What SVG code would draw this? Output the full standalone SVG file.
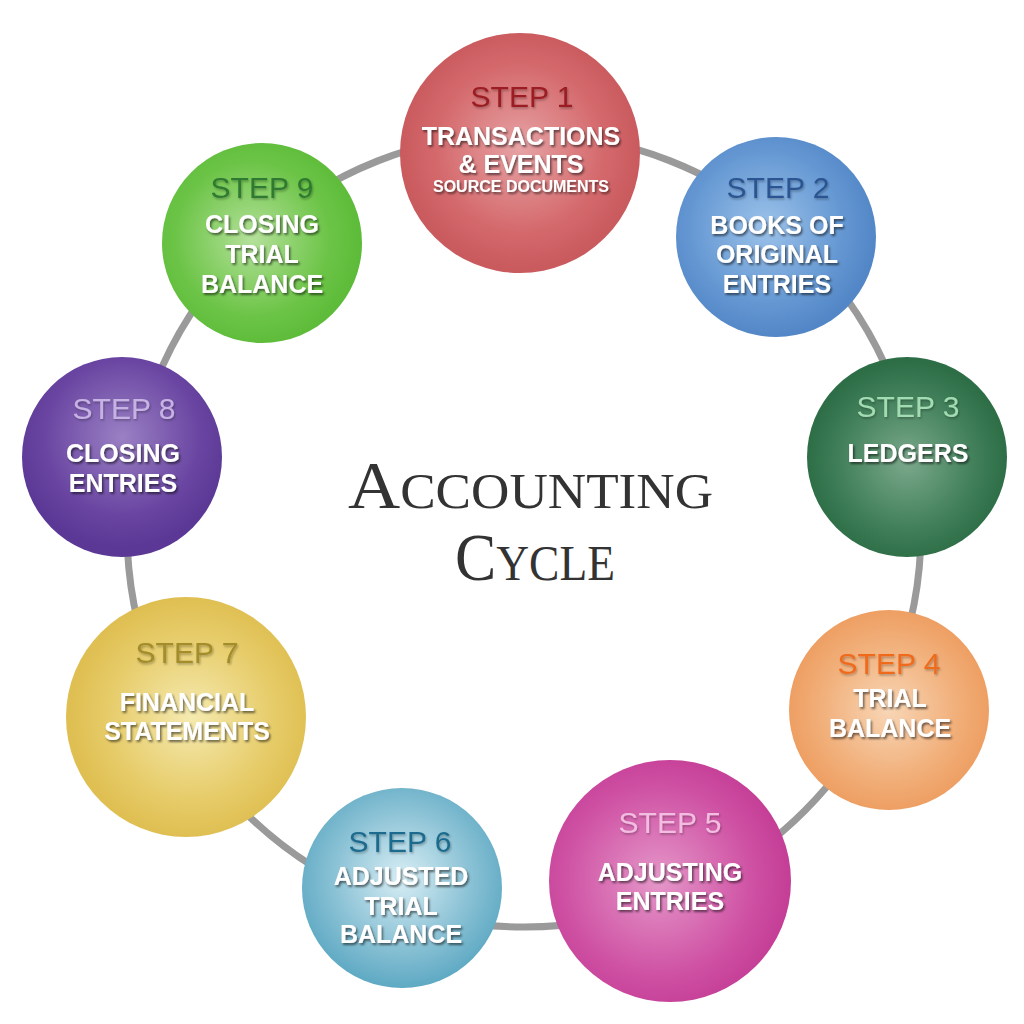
<svg xmlns="http://www.w3.org/2000/svg" width="1024" height="1024" viewBox="0 0 1024 1024">
<defs>
<radialGradient id="g1" cx="50%" cy="48%" r="50%"><stop offset="0" stop-color="#e7a3a5"/><stop offset="0.7" stop-color="#d4696c"/><stop offset="1" stop-color="#c95a5e"/></radialGradient>
<radialGradient id="g2" cx="45%" cy="45%" r="55%"><stop offset="0" stop-color="#9cc2ea"/><stop offset="0.7" stop-color="#6497d2"/><stop offset="1" stop-color="#5286c6"/></radialGradient>
<radialGradient id="g3" cx="50%" cy="52%" r="50%"><stop offset="0" stop-color="#7ba98b"/><stop offset="0.7" stop-color="#3f7e58"/><stop offset="1" stop-color="#2d6e47"/></radialGradient>
<radialGradient id="g4" cx="50%" cy="50%" r="50%"><stop offset="0" stop-color="#f8d6b6"/><stop offset="0.7" stop-color="#f1ae78"/><stop offset="1" stop-color="#ee9f63"/></radialGradient>
<radialGradient id="g5" cx="45%" cy="50%" r="55%"><stop offset="0" stop-color="#e597c9"/><stop offset="0.7" stop-color="#cf52a4"/><stop offset="1" stop-color="#c43d96"/></radialGradient>
<radialGradient id="g6" cx="50%" cy="45%" r="55%"><stop offset="0" stop-color="#d8eef5"/><stop offset="0.6" stop-color="#8dc3d6"/><stop offset="1" stop-color="#5ea9c3"/></radialGradient>
<radialGradient id="g7" cx="52%" cy="50%" r="50%"><stop offset="0" stop-color="#f5eab0"/><stop offset="0.7" stop-color="#e6cb68"/><stop offset="1" stop-color="#dfbf52"/></radialGradient>
<radialGradient id="g8" cx="50%" cy="40%" r="55%"><stop offset="0" stop-color="#9a80c4"/><stop offset="0.7" stop-color="#6a46a2"/><stop offset="1" stop-color="#5b3895"/></radialGradient>
<radialGradient id="g9" cx="45%" cy="48%" r="55%"><stop offset="0" stop-color="#b4e19a"/><stop offset="0.7" stop-color="#6cc447"/><stop offset="1" stop-color="#5cbb38"/></radialGradient>
<filter id="ts" x="-10%" y="-30%" width="130%" height="170%"><feDropShadow dx="1.5" dy="2" stdDeviation="1.2" flood-color="#000" flood-opacity="0.55"/></filter>
<filter id="ss" x="-10%" y="-30%" width="130%" height="170%"><feDropShadow dx="1" dy="1.5" stdDeviation="1" flood-color="#000" flood-opacity="0.3"/></filter>
</defs>
<style>
.step{font-family:"Liberation Sans",Arial,sans-serif;font-size:30px;text-anchor:middle;filter:url(#ss)}
.lbl{font-family:"Liberation Sans",Arial,sans-serif;font-size:25px;font-weight:bold;fill:#fff;text-anchor:middle;filter:url(#ts)}
.sm{font-size:16px}
.title{font-family:"Liberation Serif","Times New Roman",serif;fill:#333}
</style>
<rect width="1024" height="1024" fill="#fff"/>
<g id="connectors">
<circle cx="524" cy="530" r="397" fill="none" stroke="#9a9a9a" stroke-width="7"/>
</g>
<g id="title" class="title">
<text x="348" y="508" textLength="365" lengthAdjust="spacingAndGlyphs"><tspan font-size="68">A</tspan><tspan font-size="50">CCOUNTING</tspan></text>
<text x="455" y="580" textLength="160" lengthAdjust="spacingAndGlyphs"><tspan font-size="68">C</tspan><tspan font-size="50">YCLE</tspan></text>
</g>
<g id="step1">
<circle cx="520" cy="153" r="120" fill="url(#g1)"/>
<text class="step" x="522" y="107" fill="#9b1d22">STEP 1</text>
<text class="lbl" x="521" y="145">TRANSACTIONS</text>
<text class="lbl" x="521" y="173">&amp; EVENTS</text>
<text class="lbl sm" x="521" y="192">SOURCE DOCUMENTS</text>
</g>
<g id="step2">
<circle cx="776" cy="237" r="100" fill="url(#g2)"/>
<text class="step" x="778" y="198" fill="#2a5592">STEP 2</text>
<text class="lbl" x="777" y="234">BOOKS OF</text>
<text class="lbl" x="777" y="263">ORIGINAL</text>
<text class="lbl" x="777" y="293">ENTRIES</text>
</g>
<g id="step3">
<circle cx="907" cy="457" r="100" fill="url(#g3)"/>
<text class="step" x="908" y="417" fill="#a3dcb3">STEP 3</text>
<text class="lbl" x="908" y="462">LEDGERS</text>
</g>
<g id="step4">
<circle cx="889" cy="710" r="100" fill="url(#g4)"/>
<text class="step" x="889" y="674" fill="#f06a1e">STEP 4</text>
<text class="lbl" x="890" y="707">TRIAL</text>
<text class="lbl" x="890" y="737">BALANCE</text>
</g>
<g id="step5">
<circle cx="670" cy="881" r="121" fill="url(#g5)"/>
<text class="step" x="670" y="833" fill="#f2bde0">STEP 5</text>
<text class="lbl" x="670" y="881">ADJUSTING</text>
<text class="lbl" x="670" y="910">ENTRIES</text>
</g>
<g id="step6">
<circle cx="402" cy="888" r="100" fill="url(#g6)"/>
<text class="step" x="400" y="852" fill="#1c6b8e">STEP 6</text>
<text class="lbl" x="401" y="885">ADJUSTED</text>
<text class="lbl" x="401" y="915">TRIAL</text>
<text class="lbl" x="401" y="943">BALANCE</text>
</g>
<g id="step7">
<circle cx="186" cy="717" r="120" fill="url(#g7)"/>
<text class="step" x="187" y="663" fill="#a38c2a">STEP 7</text>
<text class="lbl" x="187" y="711">FINANCIAL</text>
<text class="lbl" x="187" y="740">STATEMENTS</text>
</g>
<g id="step8">
<circle cx="122" cy="457" r="100" fill="url(#g8)"/>
<text class="step" x="124" y="419" fill="#c6b3e3">STEP 8</text>
<text class="lbl" x="123" y="462">CLOSING</text>
<text class="lbl" x="123" y="492">ENTRIES</text>
</g>
<g id="step9">
<circle cx="262" cy="243" r="100" fill="url(#g9)"/>
<text class="step" x="262" y="198" fill="#2f7a30">STEP 9</text>
<text class="lbl" x="262" y="233">CLOSING</text>
<text class="lbl" x="262" y="263">TRIAL</text>
<text class="lbl" x="262" y="293">BALANCE</text>
</g>
</svg>
